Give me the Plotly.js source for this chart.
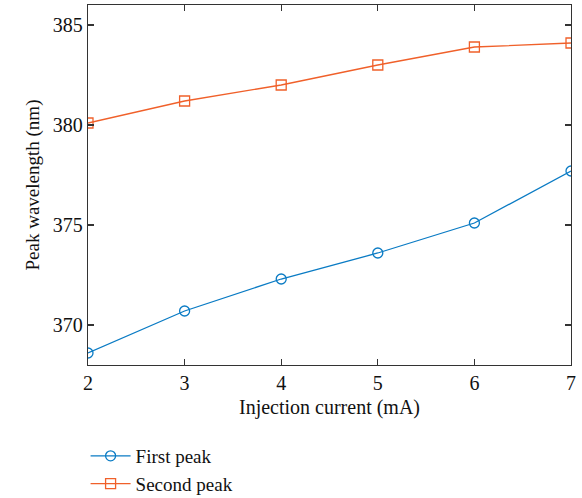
<!DOCTYPE html>
<html>
<head>
<meta charset="utf-8">
<script src="https://cdn.plot.ly/plotly-3.0.1.min.js"></script>
<style>html,body{margin:0;padding:0;background:#fff;}#chart{width:582px;height:498px;}</style>
</head>
<body>
<div id="chart"></div>
<script>
var current = [2, 3, 4, 5, 6, 7];
var firstPeak = [368.6, 370.7, 372.3, 373.6, 375.1, 377.7];
var secondPeak = [380.1, 381.2, 382.0, 383.0, 383.9, 384.1];
var seriesNames = ["First peak", "Second peak"];
var xTicks = [2, 3, 4, 5, 6, 7];
var yTicks = [370, 375, 380, 385];

var fontFam = "Liberation Serif, Times New Roman, serif";
var traces = [
  {x: current, y: firstPeak, name: seriesNames[0], mode: "lines+markers",
   line: {color: "#0a7bc4", width: 1.3},
   marker: {symbol: "circle-open", size: 10, color: "#0a7bc4", line: {width: 1.3, color: "#0a7bc4"}}},
  {x: current, y: secondPeak, name: seriesNames[1], mode: "lines+markers",
   line: {color: "#f0602a", width: 1.3},
   marker: {symbol: "square-open", size: 10, color: "#f0602a", line: {width: 1.3, color: "#f0602a"}}}
];
var axisCommon = {
  showgrid: false, zeroline: false, showline: true, mirror: "ticks",
  linecolor: "#333", linewidth: 1.3, ticks: "inside", ticklen: 6, tickwidth: 1.3, tickcolor: "#333",
  tickfont: {family: fontFam, size: 20, color: "#111"}
};
var layout = {
  width: 582, height: 498,
  margin: {l: 88, r: 11, t: 5, b: 133, autoexpand: false},
  paper_bgcolor: "#fff", plot_bgcolor: "#fff",
  font: {family: fontFam, color: "#111"},
  xaxis: Object.assign({}, axisCommon, {range: [2, 7], tickvals: xTicks, automargin: false,
    title: {text: "Injection current (mA)", font: {family: fontFam, size: 20, color: "#111"}, standoff: 6}}),
  yaxis: Object.assign({}, axisCommon, {range: [368, 386], tickvals: yTicks, automargin: false,
    title: {text: "Peak wavelength (nm)", font: {family: fontFam, size: 19, color: "#111"}, standoff: 8}}),
  showlegend: true,
  legend: {x: -0.005, xanchor: "left", y: -0.2, yanchor: "top", orientation: "v", itemwidth: 40,
    font: {family: fontFam, size: 19, color: "#111"}, bgcolor: "rgba(0,0,0,0)", tracegroupgap: 0}
};
Plotly.newPlot("chart", traces, layout, {displayModeBar: false, staticPlot: true});
</script>
</body>
</html>
